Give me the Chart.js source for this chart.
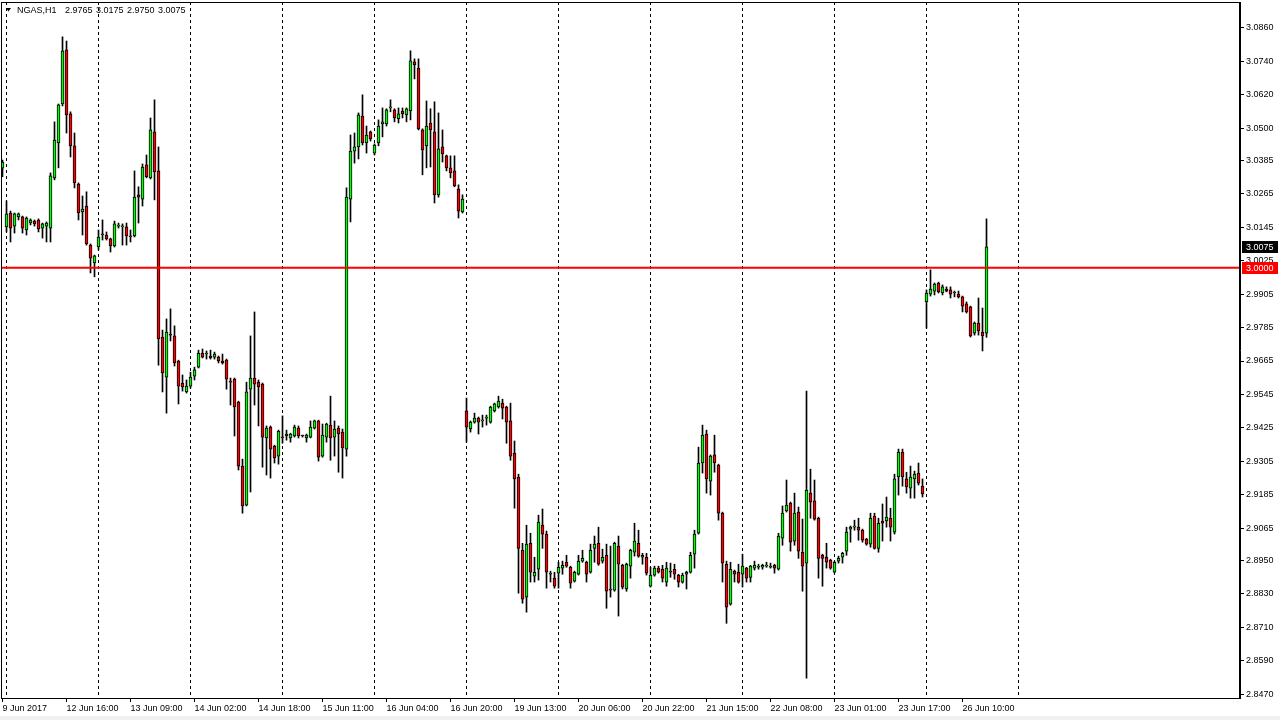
<!DOCTYPE html>
<html><head><meta charset="utf-8">
<script src="https://cdn.jsdelivr.net/npm/chart.js@4.4.1/dist/chart.umd.min.js"></script>
<style>html,body{margin:0;padding:0;background:#f0f0f0;overflow:hidden}canvas{display:block;background:#fff}</style>
</head><body>
<canvas id="c" width="1280" height="716"></canvas>
<script>
const symbolTitle = 'NGAS,H1';
const headerValues = ['2.9765', '3.0175', '2.9750', '3.0075'];

const openP = [
3.0357,3.0146,3.0196,3.0149,3.0182,3.0182,3.0135,3.0160,3.0167,3.0171,3.0142,3.0149,3.0142,3.0322,3.0447,3.0587,3.0781,3.0552,3.0437,3.0300,
3.0200,3.0221,3.0081,3.0017,3.0074,3.0117,3.0117,3.0103,3.0078,3.0149,3.0146,3.0146,3.0114,3.0114,3.0261,3.0246,3.0369,3.0322,3.0487,3.0347,
2.9751,2.9607,2.9762,2.9755,2.9665,2.9586,2.9554,2.9575,2.9611,2.9643,2.9693,2.9690,2.9683,2.9679,2.9679,2.9665,2.9668,2.9593,2.9600,2.9518,
2.9288,2.9148,2.9564,2.9604,2.9589,2.9582,2.9389,2.9428,2.9360,2.9324,2.9392,2.9396,2.9389,2.9396,2.9424,2.9398,2.9389,2.9392,2.9424,2.9450,
2.9324,2.9392,2.9435,2.9392,2.9424,2.9410,2.9349,3.0246,3.0418,3.0433,3.0544,3.0447,3.0487,3.0411,3.0447,3.0516,3.0516,3.0573,3.0566,3.0534,
3.0562,3.0548,3.0562,3.0738,3.0716,3.0494,3.0437,3.0519,3.0487,3.0261,3.0433,3.0401,3.0358,3.0347,3.0282,3.0200,2.9486,2.9421,2.9446,2.9460,
2.9450,2.9460,2.9446,2.9486,2.9500,2.9514,2.9500,2.9450,2.9335,2.9249,2.8986,2.8818,2.9011,2.8893,2.8918,2.9076,2.9044,2.8900,2.8886,2.8904,
2.8922,2.8943,2.8925,2.8875,2.8900,2.8947,2.8943,2.8907,2.8993,2.9011,2.8947,2.8968,2.8847,2.8843,2.9001,2.8932,2.8847,2.8929,2.8979,2.9011,
2.8961,2.8961,2.8857,2.8897,2.8922,2.8918,2.8872,2.8907,2.8918,2.8897,2.8872,2.8900,2.8907,2.8972,2.9047,2.9299,2.9403,2.9234,2.9328,2.9292,
2.9119,2.8936,2.8793,2.8911,2.8907,2.8900,2.8922,2.8889,2.8922,2.8925,2.8925,2.8929,2.8925,2.8932,2.8918,2.9029,2.9127,2.9155,2.9019,2.9123,
2.8979,2.8940,2.9191,2.9163,2.9101,2.8968,2.8961,2.8950,2.8907,2.8947,2.8961,2.8983,2.9062,2.9069,2.9069,2.9058,2.9026,2.9008,2.9109,2.8993,
2.9091,2.9091,2.9101,2.9051,2.9249,2.9338,2.9242,2.9209,2.9242,2.9263,2.9216,2.9877,2.9905,2.9916,2.9945,2.9909,2.9923,2.9920,2.9909,2.9905,
2.9895,2.9870,2.9859,2.9765,2.9801,2.9769,2.9765
];
const highP = [
3.0386,3.0239,3.0203,3.0196,3.0196,3.0185,3.0182,3.0175,3.0171,3.0175,3.0160,3.0164,3.0340,3.0523,3.0587,3.0828,3.0813,3.0559,3.0483,3.0304,
3.0257,3.0272,3.0085,3.0045,3.0135,3.0171,3.0128,3.0106,3.0167,3.0160,3.0157,3.0160,3.0135,3.0347,3.0290,3.0372,3.0404,3.0537,3.0602,3.0433,
2.9776,2.9816,2.9852,2.9791,2.9668,2.9615,2.9597,2.9625,2.9643,2.9704,2.9708,2.9701,2.9704,2.9697,2.9683,2.9690,2.9672,2.9604,2.9604,2.9521,
2.9313,2.9589,2.9755,2.9841,2.9597,2.9586,2.9432,2.9432,2.9363,2.9417,2.9468,2.9417,2.9406,2.9435,2.9432,2.9399,2.9403,2.9450,2.9453,2.9453,
2.9439,2.9442,2.9539,2.9450,2.9432,2.9421,3.0286,3.0476,3.0483,3.0555,3.0620,3.0508,3.0490,3.0444,3.0530,3.0573,3.0570,3.0602,3.0570,3.0573,
3.0573,3.0573,3.0778,3.0749,3.0749,3.0498,3.0598,3.0570,3.0595,3.0555,3.0494,3.0404,3.0401,3.0401,3.0297,3.0261,2.9532,2.9450,2.9478,2.9464,
2.9471,2.9471,2.9503,2.9514,2.9539,2.9528,2.9503,2.9514,2.9378,2.9259,2.9011,2.9076,2.9047,2.8961,2.9112,2.9134,2.9055,2.8911,2.8907,2.8943,
2.8947,2.8968,2.8929,2.8911,2.8968,2.8986,2.8947,2.9008,2.9037,2.9069,2.8990,2.9008,2.9001,2.9015,2.9037,2.8936,2.8940,2.8990,2.9083,2.9058,
2.8975,2.8975,2.8925,2.8929,2.8929,2.8932,2.8943,2.8940,2.8936,2.8900,2.8904,2.8911,2.8979,2.9058,2.9356,2.9435,2.9417,2.9328,2.9399,2.9295,
2.9123,2.8947,2.8943,2.8915,2.8936,2.8972,2.8925,2.8932,2.8947,2.8936,2.8936,2.8943,2.8940,2.8936,2.9047,2.9145,2.9238,2.9159,2.9191,2.9141,
2.9098,2.9557,2.9277,2.9238,2.9105,2.8972,2.9011,2.8954,2.8947,2.8965,2.8979,2.9069,2.9073,2.9094,2.9101,2.9062,2.9029,2.9119,2.9119,2.9101,
2.9152,2.9177,2.9137,2.9259,2.9349,2.9349,2.9266,2.9288,2.9270,2.9299,2.9242,2.9920,2.9992,2.9945,2.9948,2.9938,2.9931,2.9931,2.9916,2.9916,
2.9898,2.9877,2.9862,2.9805,2.9891,2.9855,3.0175
];
const lowP = [
3.0326,3.0128,3.0092,3.0124,3.0171,3.0124,3.0117,3.0153,3.0149,3.0128,3.0106,3.0092,3.0092,3.0315,3.0358,3.0580,3.0483,3.0397,3.0286,3.0171,
3.0117,3.0081,2.9981,2.9967,3.0063,3.0099,3.0099,3.0056,3.0074,3.0142,3.0081,3.0081,3.0092,3.0110,3.0160,3.0221,3.0322,3.0318,3.0243,2.9650,
2.9554,2.9478,2.9737,2.9647,2.9511,2.9557,2.9550,2.9568,2.9597,2.9640,2.9676,2.9672,2.9672,2.9672,2.9658,2.9654,2.9564,2.9507,2.9396,2.9274,
2.9119,2.9145,2.9195,2.9507,2.9432,2.9284,2.9256,2.9245,2.9299,2.9295,2.9370,2.9381,2.9374,2.9392,2.9389,2.9392,2.9374,2.9389,2.9421,2.9306,
2.9320,2.9374,2.9309,2.9324,2.9266,2.9245,2.9324,3.0164,3.0375,3.0390,3.0440,3.0411,3.0454,3.0404,3.0437,3.0469,3.0508,3.0559,3.0523,3.0519,
3.0537,3.0523,3.0530,3.0677,3.0494,3.0333,3.0358,3.0361,3.0232,3.0253,3.0379,3.0347,3.0322,3.0290,3.0178,3.0196,2.9374,2.9410,2.9442,2.9403,
2.9428,2.9435,2.9442,2.9482,2.9496,2.9457,2.9370,2.9309,2.9137,2.8832,2.8796,2.8764,2.8872,2.8872,2.8879,2.8993,2.8850,2.8872,2.8850,2.8850,
2.8900,2.8925,2.8850,2.8872,2.8897,2.8943,2.8872,2.8904,2.8943,2.8932,2.8940,2.8778,2.8818,2.8839,2.8750,2.8847,2.8839,2.8886,2.8965,2.8961,
2.8936,2.8897,2.8854,2.8893,2.8904,2.8872,2.8857,2.8889,2.8882,2.8854,2.8868,2.8847,2.8904,2.8922,2.9044,2.9263,2.9191,2.9184,2.9266,2.9094,
2.8872,2.8724,2.8789,2.8872,2.8868,2.8854,2.8872,2.8872,2.8915,2.8918,2.8918,2.8925,2.8922,2.8904,2.8915,2.9004,2.9123,2.8983,2.9004,2.8957,
2.8839,2.8527,2.9101,2.9094,2.8886,2.8857,2.8922,2.8918,2.8904,2.8940,2.8940,2.8968,2.9015,2.9058,2.9022,2.9015,2.9004,2.8997,2.8990,2.8979,
2.9019,2.9069,2.9019,2.9044,2.9184,2.9216,2.9191,2.9173,2.9173,2.9220,2.9177,2.9783,2.9898,2.9902,2.9909,2.9902,2.9913,2.9891,2.9895,2.9891,
2.9841,2.9837,2.9751,2.9758,2.9758,2.9701,2.9750
];
const closeP = [
3.0379,3.0193,3.0142,3.0193,3.0193,3.0142,3.0178,3.0171,3.0157,3.0139,3.0157,3.0160,3.0329,3.0458,3.0584,3.0778,3.0548,3.0437,3.0304,3.0196,
3.0210,3.0085,3.0034,3.0042,3.0110,3.0121,3.0103,3.0078,3.0157,3.0153,3.0146,3.0114,3.0110,3.0253,3.0253,3.0361,3.0326,3.0494,3.0343,2.9744,
2.9622,2.9769,2.9758,2.9658,2.9575,2.9572,2.9575,2.9607,2.9633,2.9693,2.9679,2.9690,2.9676,2.9690,2.9665,2.9658,2.9600,2.9589,2.9500,2.9288,
2.9145,2.9554,2.9604,2.9582,2.9572,2.9392,2.9424,2.9349,2.9317,2.9414,2.9389,2.9403,2.9403,2.9428,2.9396,2.9396,2.9399,2.9428,2.9450,2.9320,
2.9399,2.9439,2.9389,2.9421,2.9403,2.9353,3.0253,3.0418,3.0433,3.0548,3.0447,3.0476,3.0462,3.0440,3.0508,3.0523,3.0566,3.0573,3.0537,3.0552,
3.0552,3.0570,3.0742,3.0727,3.0498,3.0422,3.0508,3.0494,3.0261,3.0426,3.0408,3.0358,3.0340,3.0293,3.0203,3.0246,2.9428,2.9446,2.9460,2.9446,
2.9450,2.9464,2.9500,2.9511,2.9521,2.9496,2.9446,2.9324,2.9242,2.8993,2.8811,2.9008,2.8907,2.8907,2.9087,2.9044,2.8907,2.8900,2.8857,2.8925,
2.8932,2.8929,2.8868,2.8907,2.8947,2.8957,2.8900,2.8986,2.9008,2.8936,2.8961,2.8839,2.8843,2.9011,2.8936,2.8854,2.8936,2.8986,2.9019,2.8965,
2.8968,2.8904,2.8897,2.8922,2.8907,2.8886,2.8922,2.8907,2.8900,2.8872,2.8897,2.8907,2.8968,2.9044,2.9299,2.9399,2.9242,2.9324,2.9299,2.9119,
2.8940,2.8782,2.8918,2.8900,2.8872,2.8929,2.8886,2.8929,2.8932,2.8925,2.8932,2.8929,2.8927,2.8922,2.9037,2.9119,2.9148,2.9015,2.9119,2.8983,
2.8929,2.9202,2.9159,2.9098,2.8957,2.8957,2.8943,2.8922,2.8943,2.8957,2.8975,2.9051,2.9069,2.9073,2.9058,2.9022,2.9008,2.9101,2.8993,2.9083,
2.9083,2.9105,2.9069,2.9242,2.9338,2.9249,2.9213,2.9249,2.9259,2.9227,2.9188,2.9909,2.9923,2.9941,2.9913,2.9931,2.9916,2.9905,2.9909,2.9895,
2.9862,2.9841,2.9755,2.9801,2.9773,2.9755,3.0075
];

const timeLabels = ['9 Jun 2017','12 Jun 16:00','13 Jun 09:00','14 Jun 02:00','14 Jun 18:00','15 Jun 11:00','16 Jun 04:00','16 Jun 20:00',
  '19 Jun 13:00','20 Jun 06:00','20 Jun 22:00','21 Jun 15:00','22 Jun 08:00','23 Jun 01:00','23 Jun 17:00','26 Jun 10:00'];
const timeLabelBars = [0,16,32,48,64,80,96,112,128,144,160,176,192,208,224,240];
const daySeparatorBars = [1,24,47,70,93,116,139,162,185,208,231,254];
const priceTicks = [3.0860,3.0740,3.0620,3.0500,3.0385,3.0265,3.0145,3.0025,2.9905,2.9785,2.9665,2.9545,2.9425,2.9305,2.9185,2.9065,2.8950,2.8830,2.8710,2.8590,2.8470];
const levelPrice = 3.0000;
const bidPrice = 3.0075;

const X_MIN = -0.375, X_MAX = 309.375;
const Y_MIN = 2.8456, Y_MAX = 3.0953;
const FONT = '"Liberation Sans", Arial, sans-serif';

const idx = openP.map((_, i) => i);
const wickData = idx.map(i => ({x: i, y: [lowP[i], highP[i]]}));
const bodyData = idx.map(i => ({x: i, y: [openP[i], closeP[i]]}));
const bodyColors = idx.map(i => closeP[i] >= openP[i] ? '#00ff00' : '#ff0000');

const overlayPlugin = {
  id: 'overlay',
  afterDraw(chart) {
    const ctx = chart.ctx, a = chart.chartArea, ys = chart.scales.y;
    ctx.save();
    ctx.strokeStyle = '#000'; ctx.lineWidth = 1;
    ctx.strokeRect(a.left + 0.5, a.top + 0.5, a.right - a.left - 1, a.bottom - a.top);
    ctx.fillStyle = '#000';
    ctx.beginPath(); ctx.moveTo(6, 8); ctx.lineTo(11, 8); ctx.lineTo(8.5, 11.5); ctx.closePath(); ctx.fill();
    ctx.font = '9px ' + FONT; ctx.textBaseline = 'middle'; ctx.textAlign = 'left';
    ctx.fillText(symbolTitle, 17, 10.5);
    const hx = [65, 96, 127, 158];
    headerValues.forEach((t, k) => ctx.fillText(t, hx[k], 10.5));
    const box = (v, bg) => {
      const y = Math.round(ys.getPixelForValue(v));
      ctx.fillStyle = bg; ctx.fillRect(a.right + 2, y - 6, 36, 12);
      ctx.fillStyle = '#fff'; ctx.fillText(v.toFixed(4), a.right + 6, y + 0.5);
    };
    box(bidPrice, '#000');
    box(levelPrice, '#ff0000');
    ctx.restore();
  }
};

new Chart(document.getElementById('c'), {
  type: 'bar',
  data: {
    datasets: [
      {type: 'line', data: [{x: X_MIN, y: levelPrice}, {x: X_MAX, y: levelPrice}], borderColor: '#ff0000', borderWidth: 2, pointRadius: 0, order: 0},
      {data: bodyData, backgroundColor: bodyColors, borderColor: '#000', borderWidth: 1, borderSkipped: false, barThickness: 3, minBarLength: 1, grouped: false, order: 1},
      {data: wickData, backgroundColor: '#000', borderWidth: 0, barThickness: 1, grouped: false, order: 2}
    ]
  },
  options: {
    responsive: false, animation: false, devicePixelRatio: 1,
    layout: {padding: {left: 1, top: 2, right: 0, bottom: 0}},
    plugins: {legend: {display: false}, tooltip: {enabled: false}},
    scales: {
      x: {
        type: 'linear', min: X_MIN, max: X_MAX, offset: false, position: 'bottom',
        afterBuildTicks: s => { s.ticks = timeLabelBars.map(v => ({value: v})); },
        afterFit: s => { s.height = 18; s.paddingLeft = 0; s.paddingRight = 0; },
        ticks: {autoSkip: false, maxRotation: 0, minRotation: 0, align: 'start', padding: 1, color: '#000',
          font: {family: FONT, size: 9}, callback: (v, i) => timeLabels[i]},
        grid: {offset: false, drawOnChartArea: false, drawTicks: true, tickLength: 4, tickColor: '#000'},
        border: {display: true, color: '#000'}
      },
      xd: {
        type: 'linear', min: X_MIN, max: X_MAX, offset: false, position: 'bottom',
        afterBuildTicks: s => { s.ticks = daySeparatorBars.map(v => ({value: v})); },
        afterFit: s => { s.height = 0; s.paddingLeft = 0; s.paddingRight = 0; },
        ticks: {display: false},
        grid: {offset: false, drawOnChartArea: true, drawTicks: false, color: '#000', lineWidth: 1},
        border: {display: false, dash: [3, 3]}
      },
      y: {
        type: 'linear', position: 'right', min: Y_MIN, max: Y_MAX, beginAtZero: false,
        afterBuildTicks: s => { s.ticks = priceTicks.map(v => ({value: v})); },
        afterFit: s => { s.width = 40; s.paddingTop = 0; s.paddingBottom = 0; },
        ticks: {autoSkip: false, padding: 2, color: '#000', font: {family: FONT, size: 9}, callback: v => v.toFixed(4)},
        grid: {drawOnChartArea: false, drawTicks: true, tickLength: 4, tickColor: '#000'},
        border: {display: true, color: '#000'}
      }
    }
  },
  plugins: [overlayPlugin]
});
</script>
</body></html>
